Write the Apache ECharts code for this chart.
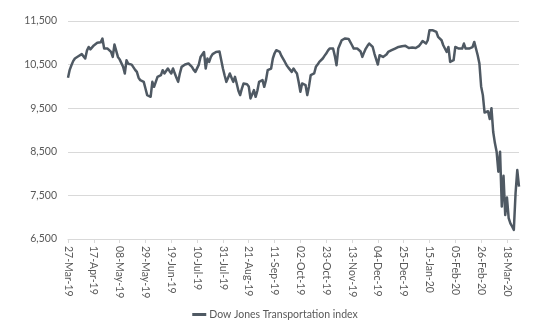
<!DOCTYPE html>
<html>
<head>
<meta charset="utf-8">
<script src="https://cdn.jsdelivr.net/npm/echarts@6/dist/echarts.min.js"></script>
<style>
html,body{margin:0;padding:0;background:#fff;}
#chart{width:550px;height:330px;}
</style>
</head>
<body>
<div id="chart"></div>
<script>
// Series name
const seriesName = 'Dow Jones Transportation index';
// First trading-day category (weekdays from here on)
const firstDate = [2019, 3, 27];
// Y-axis tick values
const yTicks = [6500, 7500, 8500, 9500, 10500, 11500];
// Index values, one per weekday from 27-Mar-19 to 27-Mar-20
const transportIndex = [
10196,10380,10486,10580,10640,10660,10690,10700,10740,10754,
10640,10820,10905,10850,10813,10940,10983,11000,11020,11010,
11097,10868,10880,10868,10830,10790,10676,10960,10940,10676,
10620,10600,10450,10296,10600,10520,10486,10500,10486,10380,
10333,10200,10143,10110,10104,9953,9800,9761,9761,10104,
9990,10104,10219,10200,10258,10372,10296,10330,10410,10350,
10296,10410,10300,10200,10104,10300,10448,10470,10502,10510,
10525,10490,10448,10380,10333,10296,10500,10676,10640,10790,
10410,10640,10562,10676,10740,10777,10790,10795,10800,10806,
10410,10250,10104,10200,10296,10200,10104,10219,10067,9900,
9800,9950,10067,10067,10050,10000,9724,9761,9914,9761,
9900,10104,10120,10143,9990,10143,10372,10400,10410,10640,
10760,10830,10800,10790,10700,10676,10560,10486,10430,10410,
10333,10410,10350,10296,10100,9876,10067,10040,10029,9800,
10000,10258,10270,10296,10448,10500,10562,10600,10640,10700,
10754,10820,10868,10860,10868,10700,10486,10868,10905,11058,
11097,11100,11112,11090,11058,10944,10868,10870,10868,10905,
10800,10676,10780,10868,10930,10983,10950,10905,10754,10790,
10502,10715,10690,10676,10700,10731,10790,10810,10830,10860,
10868,10890,10905,10900,10920,10944,10930,10905,10880,10868,
10890,10905,10880,10868,10930,10983,11040,11058,10983,11058,
11287,11300,11287,11270,11248,11134,11173,11058,10944,10983,
10790,10905,10562,10562,10600,10905,10880,10868,10870,10868,
10983,10868,10860,10868,10868,10900,11020,10868,10715,10525,
10000,9800,9400,9381,9430,9250,9500,8960,8700,8502,
8045,8502,7244,7950,7050,7450,6980,6860,6786,6710,
7550,8080,7700
];

const months = ['Jan','Feb','Mar','Apr','May','Jun','Jul','Aug','Sep','Oct','Nov','Dec'];
function buildDates(n) {
  const out = [];
  const d = new Date(Date.UTC(firstDate[0], firstDate[1] - 1, firstDate[2]));
  while (out.length < n) {
    const wd = d.getUTCDay();
    if (wd !== 0 && wd !== 6) {
      const dd = String(d.getUTCDate()).padStart(2, '0');
      const yy = String(d.getUTCFullYear()).slice(2);
      out.push(dd + '-' + months[d.getUTCMonth()] + '-' + yy);
    }
    d.setUTCDate(d.getUTCDate() + 1);
  }
  return out;
}
const categories = buildDates(transportIndex.length);

const font = 'Lato, "Open Sans", sans-serif';
const chart = echarts.init(document.getElementById('chart'), null, {renderer: 'canvas'});
chart.setOption({
  animation: false,
  backgroundColor: '#ffffff',
  grid: {left: 68, right: 31, top: 21, bottom: 91},
  legend: {
    data: [seriesName],
    bottom: 5,
    left: 'center',
    icon: 'rect',
    itemWidth: 14,
    itemHeight: 3,
    itemGap: 4,
    textStyle: {fontFamily: font, fontSize: 10.5, color: '#595959', padding: [0, 0, 0, -2]}
  },
  xAxis: {
    type: 'category',
    data: categories,
    boundaryGap: false,
    axisLine: {show: true, lineStyle: {color: '#d9d9d9', width: 1}},
    axisTick: {show: true, interval: 14, length: 4, lineStyle: {color: '#d9d9d9'}},
    axisLabel: {interval: 14, rotate: -90, margin: 7, fontFamily: font, fontSize: 10.5, color: '#595959'},
    splitLine: {show: false}
  },
  yAxis: {
    type: 'value',
    min: yTicks[0],
    max: yTicks[yTicks.length - 1],
    interval: yTicks[1] - yTicks[0],
    axisLine: {show: false},
    axisTick: {show: false},
    axisLabel: {
      margin: 11,
      fontFamily: font, fontSize: 10.5, color: '#595959',
      formatter: v => v.toLocaleString('en-US')
    },
    splitLine: {lineStyle: {color: '#d9d9d9', width: 1}}
  },
  series: [{
    name: seriesName,
    type: 'line',
    data: transportIndex,
    showSymbol: false,
    symbol: 'none',
    lineStyle: {color: '#4f5963', width: 2.5, join: 'round'},
    itemStyle: {color: '#4f5963'}
  }]
});
</script>
</body>
</html>
